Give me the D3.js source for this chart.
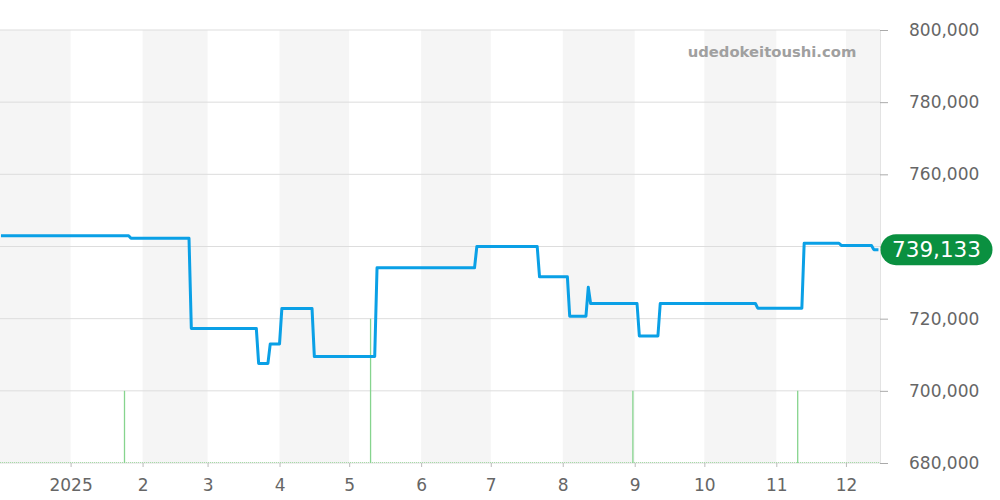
<!DOCTYPE html>
<html>
<head>
<meta charset="utf-8">
<script src="https://cdn.jsdelivr.net/npm/d3@7"></script>
<style>
  body { margin: 0; background: #fff; }
  svg { display: block; font-family: "DejaVu Sans", sans-serif; }
</style>
</head>
<body>
<svg id="chart" width="1000" height="500"></svg>
<script>
const WIDTH = 1000;
const HEIGHT = 500;
const PLOT = {left: 0, right: 880, top: 30, bottom: 463};

// price steps (date, yen)
const priceDates = [
  "2024-12-02", "2025-01-26", "2025-01-27", "2025-02-21", "2025-02-22",
  "2025-03-22", "2025-03-23", "2025-03-27", "2025-03-28", "2025-04-01",
  "2025-04-02", "2025-04-15", "2025-04-16", "2025-05-12", "2025-05-13",
  "2025-06-24", "2025-06-25", "2025-07-21", "2025-07-22", "2025-08-03",
  "2025-08-04", "2025-08-11", "2025-08-12", "2025-08-13", "2025-09-02",
  "2025-09-03", "2025-09-11", "2025-09-12", "2025-10-23", "2025-10-24",
  "2025-11-12", "2025-11-13", "2025-11-28", "2025-11-29", "2025-12-12",
  "2025-12-13", "2025-12-15"
];
const priceValues = [
  743000, 743000, 742300, 742300, 717300,
  717300, 707600, 707600, 713000, 713000,
  722800, 722800, 709500, 709500, 734100,
  734100, 740000, 740000, 731600, 731600,
  720700, 720700, 728700, 724200, 724200,
  715200, 715200, 724200, 724200, 722900,
  722900, 740900, 740900, 740300, 740300,
  739133, 739133
];

// trade counts
const volumeDates = ["2025-01-24", "2025-05-10", "2025-08-31", "2025-11-10"];
const volumeValues = [1, 2, 1, 1];

const yTicks = [680000, 700000, 720000, 740000, 760000, 780000, 800000];
const monthLabels = ["2025", "2", "3", "4", "5", "6", "7", "8", "9", "10", "11", "12"];
const lastPrice = 739133;

const parse = d3.timeParse("%Y-%m-%d");
const fmt = d3.format(",");

function main() {
  const svg = d3.select("#chart");

  const x = d3.scaleTime()
    .domain([new Date(2024, 11, 1, 14), new Date(2025, 11, 15, 16)])
    .range([PLOT.left, PLOT.right]);
  const y = d3.scaleLinear()
    .domain([680000, 800000])
    .range([PLOT.bottom, PLOT.top]);
  const yVol = d3.scaleLinear()
    .domain([0, 6])
    .range([PLOT.bottom, PLOT.top]);

  // alternating month bands
  const months = d3.timeMonth.range(new Date(2024, 11, 1), new Date(2026, 0, 1));
  svg.append("g")
    .selectAll("rect")
    .data(months.filter((d, i) => i % 2 == 0))
    .join("rect")
    .attr("x", d => Math.max(PLOT.left, x(d)))
    .attr("width", d => Math.min(PLOT.right, x(d3.timeMonth.offset(d, 1))) - Math.max(PLOT.left, x(d)))
    .attr("y", PLOT.top)
    .attr("height", PLOT.bottom - PLOT.top)
    .attr("fill", "#f5f5f5");

  // grid lines
  svg.append("g")
    .selectAll("line")
    .data(yTicks)
    .join("line")
    .attr("x1", PLOT.left)
    .attr("x2", PLOT.right)
    .attr("y1", d => y(d))
    .attr("y2", d => y(d))
    .attr("stroke", "#dddddd")
    .attr("stroke-width", 1);

  svg.append("line")
    .attr("x1", PLOT.right + 0.5).attr("x2", PLOT.right + 0.5)
    .attr("y1", PLOT.top).attr("y2", PLOT.bottom)
    .attr("stroke", "#e3e3e3");

  // watermark
  svg.append("text")
    .attr("x", 772)
    .attr("y", 57)
    .attr("text-anchor", "middle")
    .attr("font-size", 14.8)
    .attr("font-weight", "bold")
    .attr("fill", "#a0a0a0")
    .text("udedokeitoushi.com");

  // volume bars
  svg.append("line")
    .attr("x1", PLOT.left).attr("x2", PLOT.right)
    .attr("y1", PLOT.bottom - 0.5).attr("y2", PLOT.bottom - 0.5)
    .attr("stroke", "#a6dca6")
    .attr("stroke-dasharray", "1,1");

  svg.append("g")
    .selectAll("line")
    .data(volumeDates.map((d, i) => ({date: parse(d), v: volumeValues[i]})))
    .join("line")
    .attr("x1", d => x(d.date) + 0.5)
    .attr("x2", d => x(d.date) + 0.5)
    .attr("y1", yVol(0))
    .attr("y2", d => yVol(d.v))
    .attr("stroke", "#86d48e")
    .attr("stroke-width", 1.3);

  // price line
  const line = d3.line()
    .x(d => x(d.date))
    .y(d => y(d.v));
  svg.append("path")
    .datum(priceDates.map((d, i) => ({date: parse(d), v: priceValues[i]})))
    .attr("d", line)
    .attr("fill", "none")
    .attr("stroke", "#0aa0e6")
    .attr("stroke-width", 3)
    .attr("stroke-linejoin", "round");

  // x axis
  const xAxis = d3.axisBottom(x)
    .tickValues(d3.timeMonth.range(new Date(2025, 0, 1), new Date(2025, 11, 2)))
    .tickFormat((d, i) => monthLabels[i])
    .tickSize(4)
    .tickSizeOuter(0)
    .tickPadding(12);
  const gx = svg.append("g")
    .attr("transform", `translate(0,${PLOT.bottom})`)
    .call(xAxis);
  gx.select(".domain").remove();
  gx.selectAll(".tick line").attr("stroke", "#bbbbbb");
  gx.selectAll(".tick text")
    .attr("fill", "#666666")
    .attr("font-size", 17)
    .attr("font-family", "DejaVu Sans");

  // y axis on the right (740,000 sits under the badge)
  const yAxis = d3.axisRight(y)
    .tickValues(yTicks)
    .tickFormat(d => d == 740000 ? "" : fmt(d))
    .tickSize(8)
    .tickPadding(21);
  const gy = svg.append("g")
    .attr("transform", `translate(${PLOT.right},0)`)
    .call(yAxis);
  gy.select(".domain").remove();
  gy.selectAll(".tick line").attr("stroke", "#aaaaaa");
  gy.selectAll(".tick text")
    .attr("fill", "#666666")
    .attr("font-size", 17)
    .attr("font-family", "DejaVu Sans");

  // last price badge
  const by = y(lastPrice);
  svg.append("rect")
    .attr("x", PLOT.right + 0.5)
    .attr("y", by - 15.5)
    .attr("width", 112)
    .attr("height", 31)
    .attr("rx", 15.5)
    .attr("fill", "#0a9040");
  svg.append("text")
    .attr("x", PLOT.right + 56.5)
    .attr("y", by + 7.8)
    .attr("text-anchor", "middle")
    .attr("font-size", 21.5)
    .attr("fill", "#ffffff")
    .text(fmt(lastPrice));
}

main();
</script>
</body>
</html>
